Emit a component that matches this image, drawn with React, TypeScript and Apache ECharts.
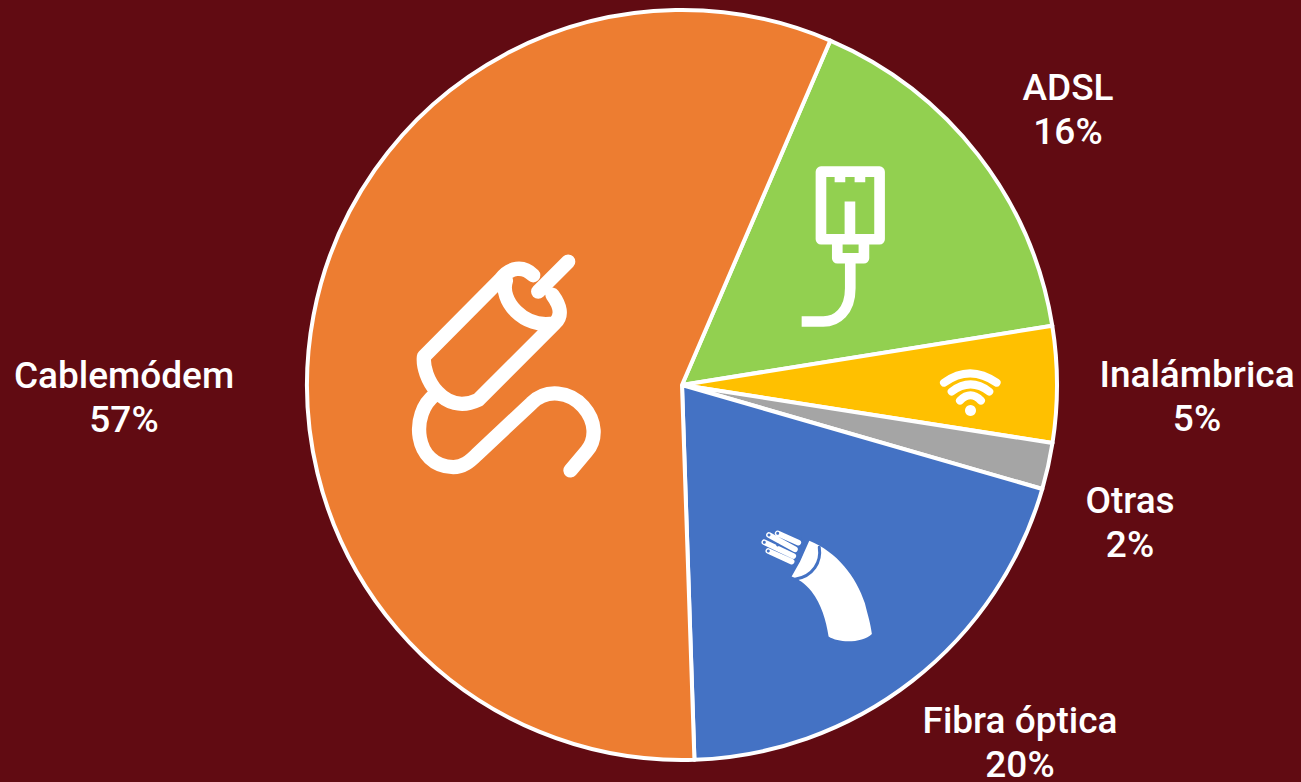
import React, { useEffect, useRef } from "react";
import * as echarts from "echarts";

// Home internet access by connection type, in percent.
const categories = ["ADSL", "Inalámbrica", "Otras", "Fibra óptica", "Cablemódem"];
const shares = [16, 5, 2, 20, 57];
const sliceColors = ["#92D050", "#FFC000", "#A5A5A5", "#4472C4", "#ED7D31"];
const labelCentres = [
  [1068, 109],
  [1197, 396],
  [1130, 522],
  [1020, 742],
  [124, 397],
];

const BACKGROUND = "#610B12";
const FIBRE_BLUE = "#4472C4";

// Icon outlines, each in a local space drawn at three times its final size.
const cablePath =
  "M 400 106 C 370 76 330 80 300 120 L 72 350 C 65 410 130 530 235 480 L 465 250 C 490 228 480 195 458 165 " +
  "M 318 122 C 298 180 370 268 465 250 " +
  "M 415 155 L 505 65 " +
  "M 105 465 C 30 520 40 680 160 682 C 190 682 210 665 230 645 L 395 490 C 440 445 510 455 550 500 C 590 545 590 600 560 635 L 512 692";
const plugPath =
  "M 93 50 H 269 V 253 H 93 Z M 150 60 V 82 M 210 60 V 82 M 180 140 V 250 " +
  "M 142 268 V 310 H 222 V 268 M 181 320 V 400 C 181 470 140 500 100 500 H 35";
const wifiPath = "M 42 68 Q 120 12 200 68 M 65 95 Q 122 52 178 95 M 90 122 Q 122 90 153 122";
const fibreBodyPath =
  "M 178 62 C 260 95 320 170 345 250 C 355 290 362 310 366 342 C 340 368 270 372 236 350 " +
  "C 228 300 215 255 185 215 C 165 190 145 178 125 170 L 150 125 Z";
const fibreCollarPath = "M 208 82 C 215 125 190 170 135 178";
const fibreGroovePath = "M 150 55 C 170 85 150 125 122 140";
const fibreStrandsPath = "M 83 40 L 145 68 M 57 45 L 135 88 M 43 67 L 130 108 M 55 93 L 125 125";

echarts.graphic.registerShape("iconCable", echarts.graphic.extendPath(cablePath, {}));
echarts.graphic.registerShape("iconPlug", echarts.graphic.extendPath(plugPath, {}));
echarts.graphic.registerShape("iconWifi", echarts.graphic.extendPath(wifiPath, {}));
echarts.graphic.registerShape("iconFibreBody", echarts.graphic.extendPath(fibreBodyPath, {}));
echarts.graphic.registerShape("iconFibreCollar", echarts.graphic.extendPath(fibreCollarPath, {}));
echarts.graphic.registerShape("iconFibreGroove", echarts.graphic.extendPath(fibreGroovePath, {}));
echarts.graphic.registerShape("iconFibreStrands", echarts.graphic.extendPath(fibreStrandsPath, {}));

const third = { scaleX: 1 / 3, scaleY: 1 / 3, z: 100 };
const whiteLine = (lineWidth: number, lineCap = "round") => ({
  fill: "none",
  stroke: "#FFFFFF",
  lineWidth,
  lineCap,
  lineJoin: "round",
});

const fibreTips = [
  [83, 40],
  [57, 45],
  [43, 67],
  [55, 93],
  [83, 75],
];

const icons = [
  { type: "iconCable", x: 400, y: 240, ...third, style: whiteLine(43) },
  { type: "iconPlug", x: 790, y: 155, ...third, style: whiteLine(32, "butt") },
  { type: "iconWifi", x: 930, y: 360, ...third, style: whiteLine(24) },
  { type: "circle", x: 970.5, y: 410.5, z: 100, shape: { r: 5.5 }, style: { fill: "#FFFFFF" } },
  { type: "iconFibreBody", x: 750, y: 520, ...third, style: { fill: "#FFFFFF" } },
  {
    type: "iconFibreCollar",
    x: 750,
    y: 520,
    ...third,
    style: { fill: "none", stroke: FIBRE_BLUE, lineWidth: 9, lineCap: "round" },
  },
  {
    type: "iconFibreGroove",
    x: 750,
    y: 520,
    ...third,
    style: { fill: "none", stroke: FIBRE_BLUE, lineWidth: 8, lineCap: "round" },
  },
  {
    type: "iconFibreStrands",
    x: 750,
    y: 520,
    ...third,
    style: { fill: "none", stroke: FIBRE_BLUE, lineWidth: 22, lineCap: "round" },
  },
  { type: "iconFibreStrands", x: 750, y: 520, ...third, style: whiteLine(17) },
  ...fibreTips.map(([tx, ty]) => ({
    type: "circle",
    x: 750 + tx / 3,
    y: 520 + ty / 3,
    z: 101,
    shape: { r: 1.5 },
    style: { fill: FIBRE_BLUE },
  })),
];

export default function App() {
  const ref = useRef<HTMLDivElement>(null);

  useEffect(() => {
    document.body.style.margin = "0";
    document.body.style.background = BACKGROUND;
    const chart = echarts.init(ref.current!, undefined, { renderer: "svg" });
    chart.setOption({
      animation: false,
      backgroundColor: BACKGROUND,
      series: [
        {
          type: "pie",
          center: [682, 385],
          radius: [0, 375],
          startAngle: 66.7,
          clockwise: true,
          avoidLabelOverlap: false,
          minShowLabelAngle: 0,
          silent: true,
          itemStyle: { borderColor: "#FFFFFF", borderWidth: 4 },
          label: {
            show: true,
            position: "outside",
            formatter: "{b}\n{c}%",
            color: "#FFFFFF",
            fontFamily: "Roboto",
            fontWeight: 500,
            fontSize: 37,
            lineHeight: 44,
            align: "center",
            overflow: "none",
          },
          labelLine: { show: false },
          labelLayout: (params: { dataIndex: number }) => {
            const [x, y] = labelCentres[params.dataIndex];
            return { x, y, align: "center", verticalAlign: "middle" };
          },
          data: categories.map((name, i) => ({
            name,
            value: shares[i],
            itemStyle: { color: sliceColors[i] },
          })),
        },
      ],
      graphic: { elements: icons },
    });
    return () => chart.dispose();
  }, []);

  return <div ref={ref} style={{ position: "absolute", left: 0, top: 0, width: 1301, height: 782 }} />;
}
